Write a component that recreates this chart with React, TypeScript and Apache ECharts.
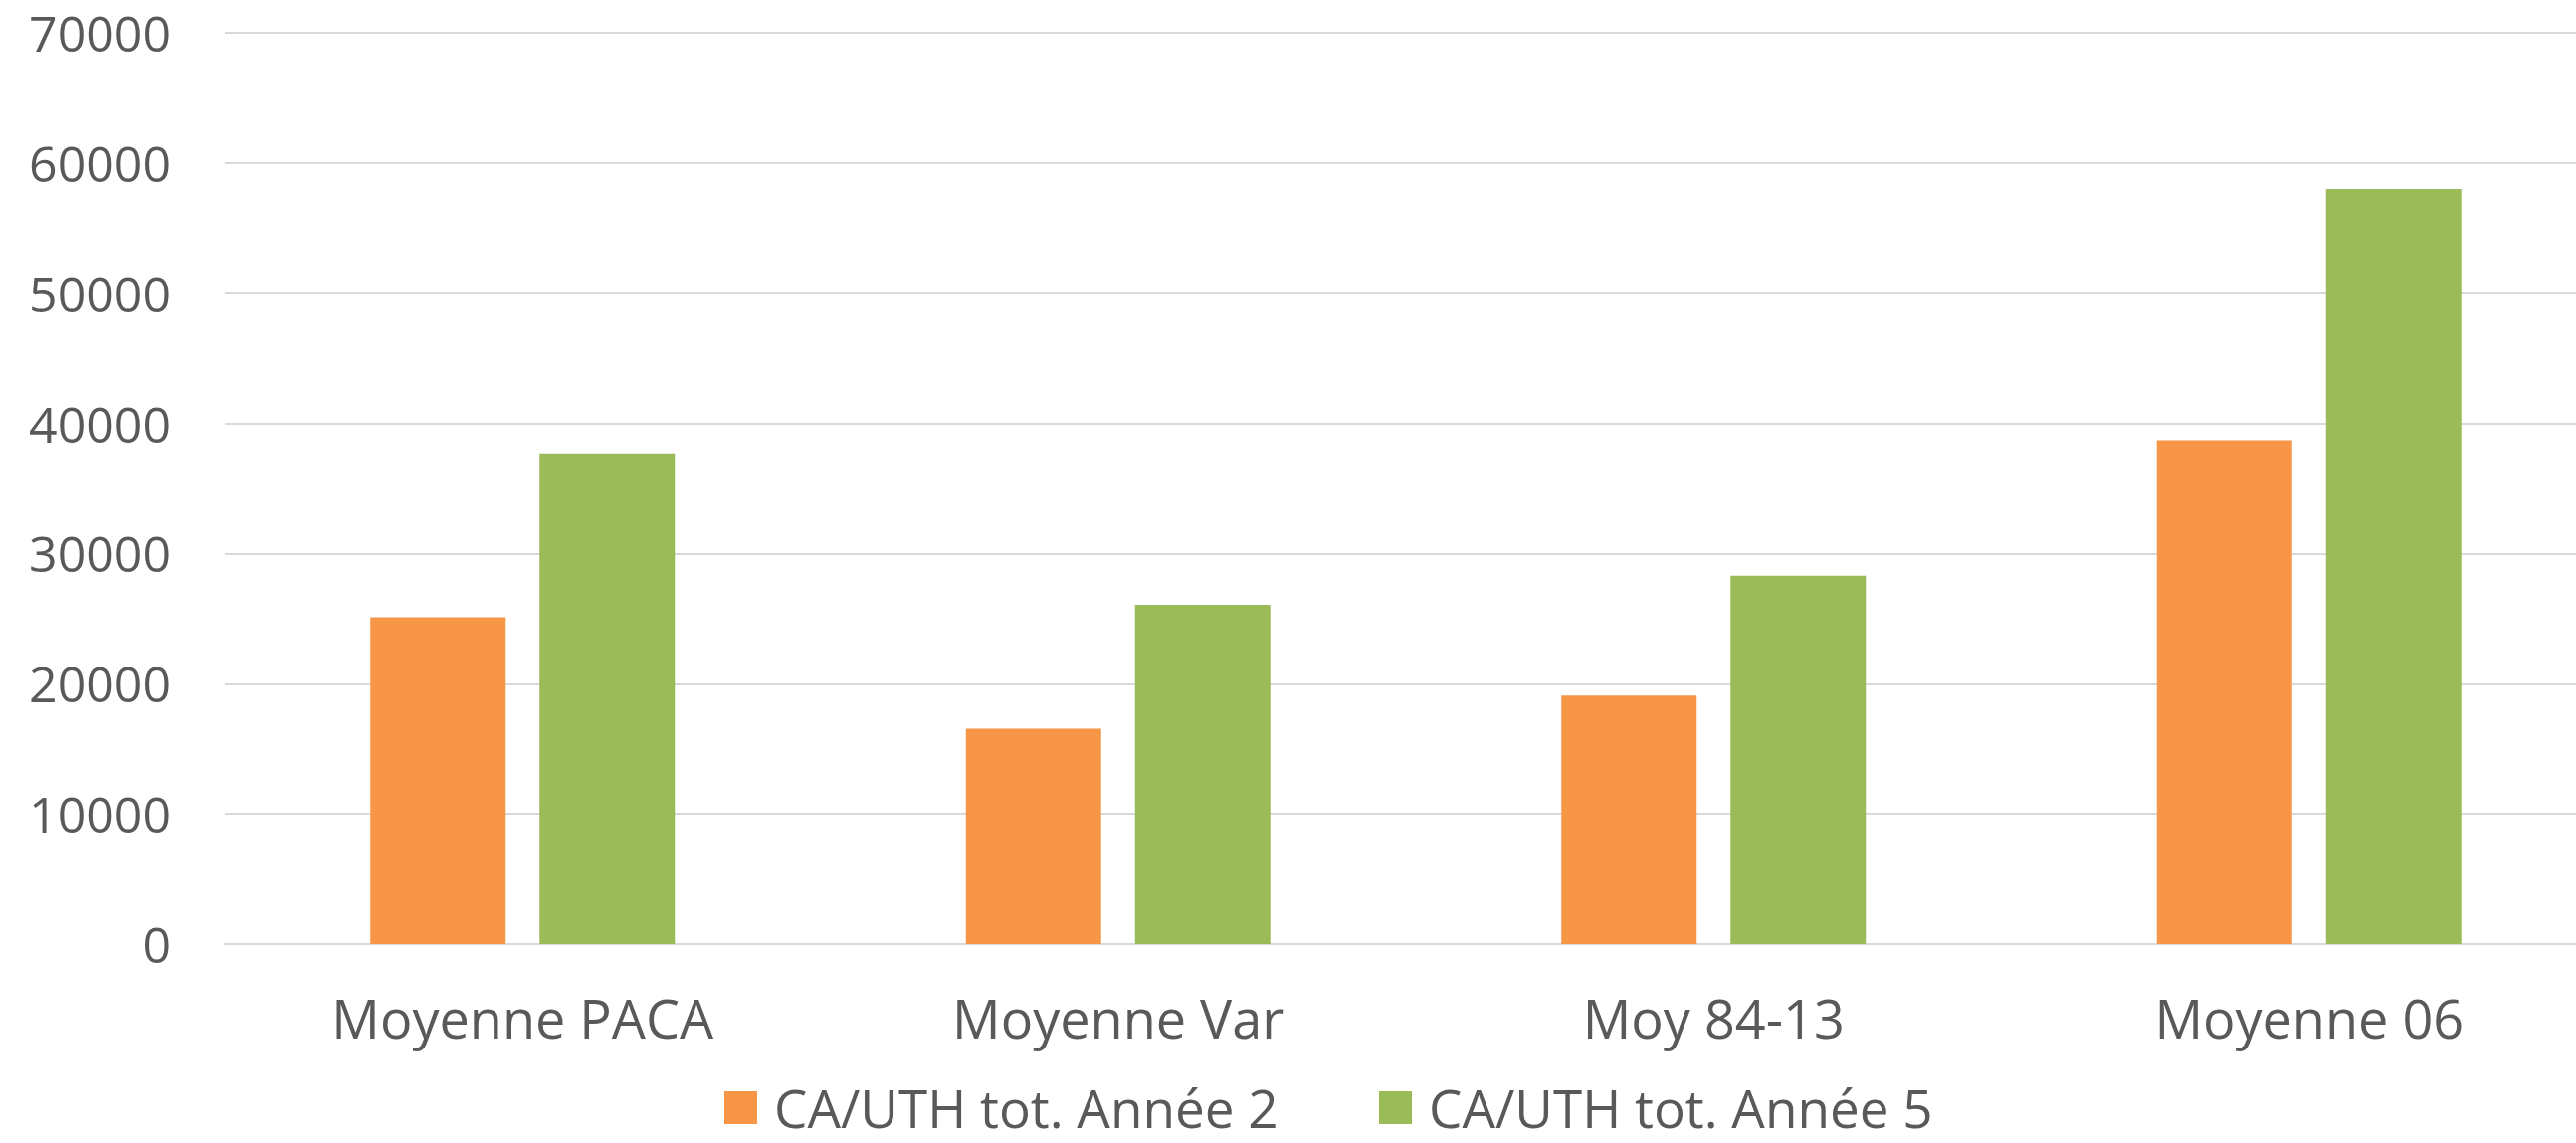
import React, { useEffect, useRef } from "react";
import * as echarts from "echarts";

const categories = ["Moyenne PACA", "Moyenne Var", "Moy 84-13", "Moyenne 06"];
const seriesNames = ["CA/UTH tot. Année 2", "CA/UTH tot. Année 5"];
const annee2 = [25100, 16550, 19080, 38700];
const annee5 = [37700, 26050, 28300, 58000];
const colors = ["#F79646", "#9BBB59"];
const yMin = 0;
const yMax = 70000;
const yInterval = 10000;

export default function App() {
  const ref = useRef<HTMLDivElement>(null);
  useEffect(() => {
    if (!ref.current) return;
    const chart = echarts.init(ref.current, null, { renderer: "svg" });
    const font = "'Open Sans', sans-serif";
    const legendBase = {
      top: 1087,
      padding: 0,
      itemWidth: 33,
      itemHeight: 33,
      icon: "rect",
      textStyle: { fontFamily: font, fontSize: 53, lineHeight: 53, color: "#595959", padding: [0, 0, 0, 12] },
    };
    chart.setOption({
      animation: false,
      backgroundColor: "#ffffff",
      grid: { left: 226, top: 33, width: 2394, height: 916, containLabel: false },
      legend: [
        { ...legendBase, left: 728, data: [seriesNames[0]] },
        { ...legendBase, left: 1386, data: [seriesNames[1]] },
      ],
      xAxis: {
        type: "category",
        data: categories,
        axisLine: { show: true, lineStyle: { color: "#D9D9D9", width: 2 } },
        axisTick: { show: false },
        axisLabel: { fontFamily: font, fontSize: 54, color: "#595959", margin: 47 },
      },
      yAxis: {
        type: "value",
        min: yMin,
        max: yMax,
        interval: yInterval,
        axisLine: { show: false },
        axisTick: { show: false },
        splitLine: { lineStyle: { color: "#D9D9D9", width: 2 } },
        axisLabel: {
          fontFamily: font,
          fontSize: 50,
          color: "#595959",
          margin: 54,
          formatter: (v: number) => String(v),
        },
      },
      series: [
        { name: seriesNames[0], type: "bar", data: annee2, barWidth: 136, barGap: "25%", itemStyle: { color: colors[0] } },
        { name: seriesNames[1], type: "bar", data: annee5, barWidth: 136, barGap: "25%", itemStyle: { color: colors[1] } },
      ],
    });
    return () => chart.dispose();
  }, []);
  return (
    <div style={{ position: "fixed", left: 0, top: 0, width: 2589, height: 1149, overflow: "hidden", background: "#fff" }}>
      <div ref={ref} style={{ position: "absolute", left: 0, top: 0, width: 2640, height: 1149 }} />
    </div>
  );
}
